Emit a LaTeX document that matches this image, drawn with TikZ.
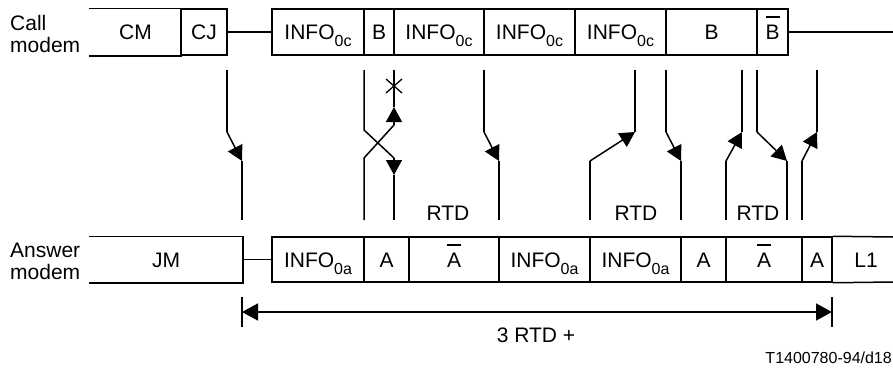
\documentclass[tikz,border=0pt]{standalone}
\usepackage{fontspec}
\setmainfont{Liberation Sans}
\usetikzlibrary{arrows.meta}
\newcommand\sbs[1]{\raisebox{-7pt}{\fontsize{16}{16}\selectfont #1}}
\newcommand\ovl[1]{\setbox0\hbox{#1}\rlap{\raisebox{\dimexpr\ht0+7pt\relax}{\rule{\wd0}{1.7pt}}}\box0}
\begin{document}
\begin{tikzpicture}[x=1pt,y=-1pt,
  txt/.style={font=\fontsize{21}{24}\selectfont, inner sep=0pt},
  box/.style={draw, line width=1.5pt, inner sep=0pt, minimum height=46pt, text height=15pt, text depth=0pt, font=\fontsize{21}{24}\selectfont},
  boxb/.style={box, minimum height=45pt},
  conn/.style={line width=1.8pt},
  sig/.style={line width=1.5pt},
  tip/.style={-{Triangle[length=15pt,width=16pt]}},
  ]
\useasboundingbox[fill=white] (0,0) rectangle (893,367);
% labels
\node[txt, anchor=base west] (l1a) at (10,30) {Call};
\node[txt, anchor=base west] (l1b) at (10,52) {modem};
\node[txt, anchor=base west] (l2a) at (10,257) {Answer};
\node[txt, anchor=base west] (l2b) at (10,279) {modem};
% call modem row
\node[box, draw=none, minimum width=91pt] (cm) at (135.5,32) {CM};
\draw[line width=1.5pt] (cm.north west) -- (cm.north east) (cm.south west) -- (cm.south east);
\node[box, minimum width=46pt] (cj) at (204,32) {CJ};
\node[box, minimum width=92pt] (i1) at (318,32) {INFO\sbs{0c}};
\node[box, minimum width=30pt] (b1) at (379,32) {B};
\node[box, minimum width=90pt] (i2) at (439,32) {INFO\sbs{0c}};
\node[box, minimum width=91pt] (i3) at (529.5,32) {INFO\sbs{0c}};
\node[box, minimum width=91pt] (i4) at (620.5,32) {INFO\sbs{0c}};
\node[box, minimum width=91pt] (b2) at (711.5,32) {B};
\node[box, minimum width=31pt] (bb) at (772.5,32) {\ovl{B}};
\coordinate (tr) at (893,32);
\draw[conn] (cj.east) -- (i1.west);
\draw[conn] (bb.east) -- (tr);
% answer modem row
\node[boxb, draw=none, minimum width=152pt] (jm) at (166,259.5) {JM};
\draw[line width=1.5pt] (jm.north west) -- (jm.north east) -- (jm.south east) -- (jm.south west);
\node[boxb, minimum width=92pt] (a1) at (318,259.5) {INFO\sbs{0a}};
\node[boxb, minimum width=45pt] (a2) at (386.5,259.5) {A};
\node[boxb, minimum width=90pt] (a3) at (454,259.5) {\ovl{A}};
\node[boxb, minimum width=91pt] (a4) at (544.5,259.5) {INFO\sbs{0a}};
\node[boxb, minimum width=91pt] (a5) at (635.5,259.5) {INFO\sbs{0a}};
\node[boxb, minimum width=45pt] (a6) at (703.5,259.5) {A};
\node[boxb, minimum width=76pt] (a7) at (764,259.5) {\ovl{A}};
\node[boxb, minimum width=30pt] (a8) at (817,259.5) {A};
\node[boxb, draw=none, minimum width=61pt] (lone) at (866,259.5) {L1};
\draw[line width=1.5pt] (a8.north east) -- (893,237) (a8.south east) -- (893,282);
\draw[conn] (jm.east) -- (a1.west);
% signals
\draw[sig] (227,70) -- (227,132);
\draw[sig, tip] (227,132) -- (242,161);
\draw[sig] (242,161) -- (242,220);
% crossing
\draw[sig] (364,70) -- (364,130) -- (394,158);
\draw[sig, tip] (394,158) -- (394,175);
\draw[sig] (394,175) -- (394,220);
\draw[sig] (364,220) -- (364,158) -- (394,125);
\draw[sig, tip] (394,125) -- (394,107);
\draw[sig] (394,107) -- (394,70);
\draw[line width=1.3pt] (386,79) -- (402,93) (386,93) -- (402,79);
%
\draw[sig] (484,70) -- (484,132);
\draw[sig, tip] (484,132) -- (499,161);
\draw[sig] (499,161) -- (499,220);
%
\draw[sig] (590,220) -- (590,161);
\draw[sig, tip] (590,161) -- (635,132);
\draw[sig] (635,132) -- (635,70);
%
\draw[sig] (666,70) -- (666,132);
\draw[sig, tip] (666,132) -- (681,161);
\draw[sig] (681,161) -- (681,220);
%
\draw[sig] (726,220) -- (726,161);
\draw[sig, tip] (726,161) -- (742,132);
\draw[sig] (742,132) -- (742,70);
%
\draw[sig] (757,70) -- (757,132);
\draw[sig, tip] (757,132) -- (787,161);
\draw[sig] (787,161) -- (787,220);
%
\draw[sig] (802,220) -- (802,161);
\draw[sig, tip] (802,161) -- (817,132);
\draw[sig] (817,132) -- (817,70);
% RTD labels
\node[txt, anchor=base] (r1) at (448,220) {RTD};
\node[txt, anchor=base] (r2) at (636,220) {RTD};
\node[txt, anchor=base] (r3) at (758,220) {RTD};
% bottom span
\coordinate (ml) at (242,312);
\coordinate (mr) at (832,312);
\draw[line width=1.6pt] (242,297) -- (242,327) (832,297) -- (832,327);
\draw[line width=1.6pt, {Triangle[length=16pt,width=17pt]}-{Triangle[length=16pt,width=17pt]}] (ml) -- (mr);
\node[txt, anchor=base] (span) at (536,342) {3 RTD +};
\node[font=\fontsize{16}{18}\selectfont, inner sep=0pt, anchor=base east] (ref) at (892,363) {T1400780-94/d18};
\end{tikzpicture}
\end{document}
